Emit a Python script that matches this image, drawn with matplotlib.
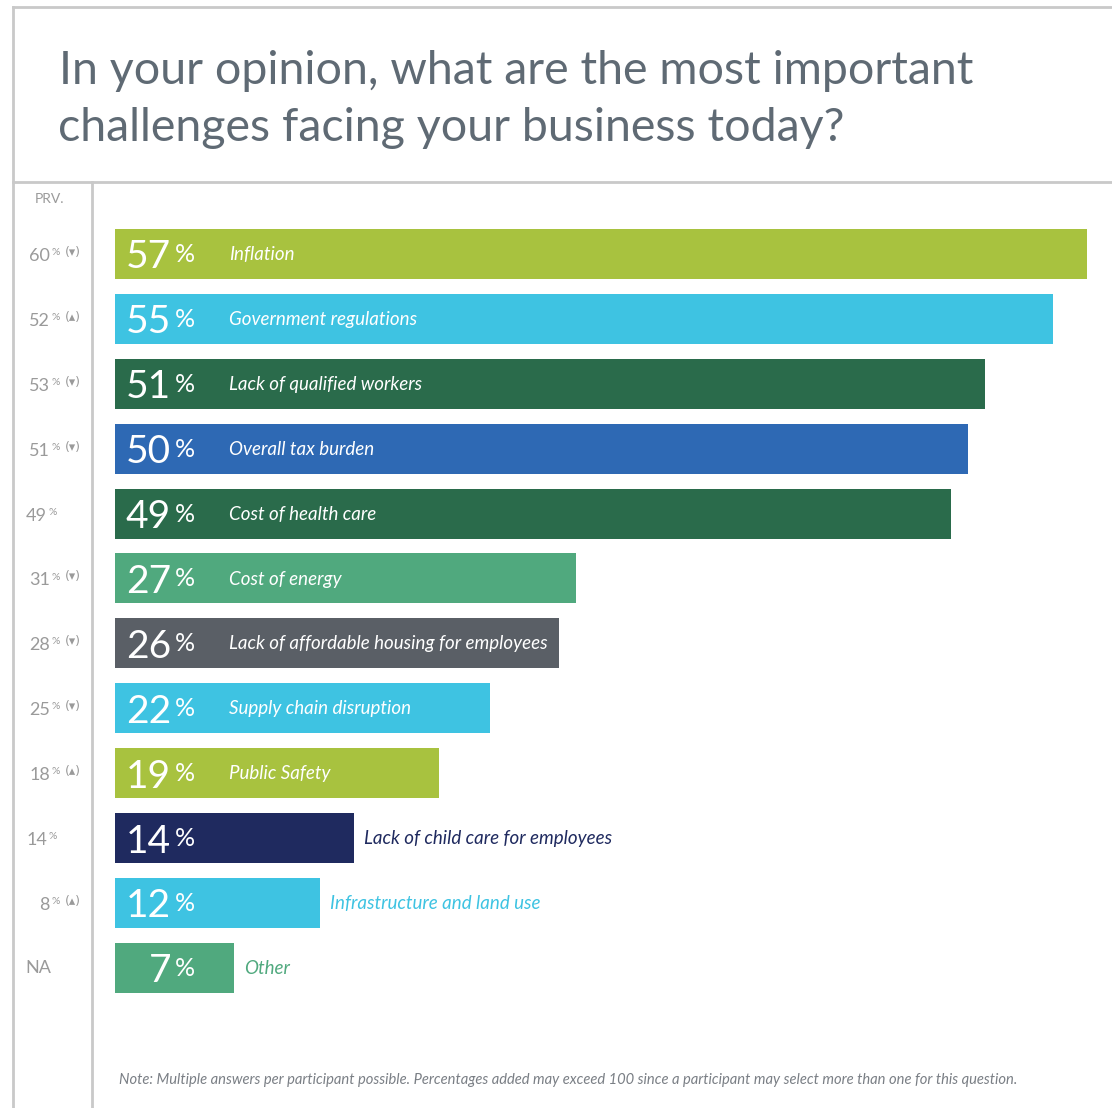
import matplotlib
matplotlib.use("Agg")
import matplotlib.pyplot as plt
from matplotlib.lines import Line2D
from matplotlib import transforms

# data
categories = ["Inflation", "Government regulations", "Lack of qualified workers",
              "Overall tax burden", "Cost of health care", "Cost of energy",
              "Lack of affordable housing for employees", "Supply chain disruption",
              "Public Safety", "Lack of child care for employees",
              "Infrastructure and land use", "Other"]
values = [57, 55, 51, 50, 49, 27, 26, 22, 19, 14, 12, 7]
prev_values = ["60", "52", "53", "51", "49", "31", "28", "25", "18", "14", "8", "NA"]
prev_trend = ["down", "up", "down", "down", "", "down", "down", "down", "up", "", "up", ""]
bar_colors = ["#a8c23f", "#3ec3e2", "#2a6b4b", "#2e69b4", "#2a6b4b", "#50a97e",
              "#5a5f66", "#3ec3e2", "#a8c23f", "#1f2a5f", "#3ec3e2", "#50a97e"]

title_lines = ["In your opinion, what are the most important",
               "challenges facing your business today?"]
note = ("Note: Multiple answers per participant possible. Percentages added may exceed 100 "
        "since a participant may select more than one for this question.")

W, H = 1112, 1108
ROW = 64.9          # pixels per row
PX_PER_PCT = 17.06  # pixels per percent

plt.rcParams['font.family'] = ['Lato', 'DejaVu Sans']

fig = plt.figure(figsize=(W / 100, H / 100), dpi=100)

def fx(px):
    return px / W

def fy(py):
    return 1 - py / H

# frame lines
line_kw = dict(color="#c9c9c9", lw=2, transform=fig.transFigure)
fig.add_artist(Line2D([fx(13), fx(13)], [fy(7), fy(H)], **line_kw))
fig.add_artist(Line2D([fx(13), 1], [fy(7), fy(7)], **line_kw))
fig.add_artist(Line2D([fx(13), 1], [fy(182), fy(182)], **line_kw))
fig.add_artist(Line2D([fx(92), fx(92)], [fy(182), fy(H)], **line_kw))

# title
fig.text(fx(59), fy(84), title_lines[0], fontsize=33.5, color="#5f6a74", va="baseline")
fig.text(fx(58), fy(141), title_lines[1], fontsize=33.5, color="#5f6a74", va="baseline")

# bar axes
ax = fig.add_axes([fx(115), 0, 1 - fx(115), (H - 182) / H])
ax.set_xlim(0, (W - 115) / PX_PER_PCT)
top = (182 - 254) / ROW
bottom = (H - 254) / ROW
ax.set_ylim(bottom, top)
ax.axis("off")

ypos = list(range(len(values)))
ax.barh(ypos, values, height=50 / ROW, color=bar_colors, edgecolor="none")

trans = transforms.blended_transform_factory(fig.transFigure, ax.transData)

for i, (cat, v, c) in enumerate(zip(categories, values, bar_colors)):
    # big percentage in the bar
    ax.text(fx(171), i + 14.5 / ROW, str(v), transform=trans, fontsize=28,
            color="white", ha="right", va="baseline")
    ax.text(fx(175), i + 8 / ROW, "%", transform=trans, fontsize=18,
            color="white", ha="left", va="baseline")
    if v > 15:
        ax.text(fx(229), i + 6 / ROW, cat, transform=trans, fontsize=13.5,
                style="italic", color="white", ha="left", va="baseline")
    else:
        ax.text(v + 10 / PX_PER_PCT, i + 6 / ROW, cat, fontsize=13.5, style="italic",
                color=c, ha="left", va="baseline")

# previous year column
ax.text(fx(50), -0.85, "PRV.", transform=trans, fontsize=10, color="#9a9a9a",
        ha="center", va="center")
for i, (p, t) in enumerate(zip(prev_values, prev_trend)):
    if p == "NA":
        ax.text(fx(25), i, p, transform=trans, fontsize=13, color="#9a9a9a",
                ha="left", va="center")
        continue
    xr = 50 if t else 47
    ax.text(fx(xr), i + 7 / ROW, p, transform=trans, fontsize=13, color="#9a9a9a",
            ha="right", va="baseline")
    ax.text(fx(xr + 2), i + 1 / ROW, "%", transform=trans, fontsize=7.5,
            color="#9a9a9a", ha="left", va="baseline")
    if t:
        arrow = "(\u25be)" if t == "down" else "(\u25b4)"
        ax.text(fx(65), i + 2 / ROW, arrow, transform=trans, fontsize=9,
                color="#9a9a9a", ha="left", va="baseline",
                family=["DejaVu Sans"])

# note
fig.text(fx(119), fy(1080), note, fontsize=10.6, style="italic", color="#7a7f85",
         ha="left", va="center")

fig.savefig("out.png", dpi=100)
